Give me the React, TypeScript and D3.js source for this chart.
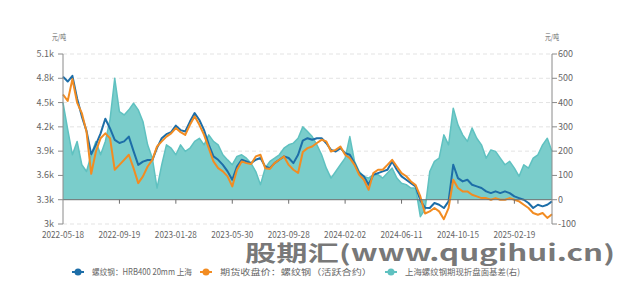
import React from "react";
import * as d3 from "d3";

const tickLabels = ["2022-05-18", "2022-09-19", "2023-01-28", "2023-05-30", "2023-09-28", "2024-02-02", "2024-06-11", "2024-10-15", "2025-02-19"];
const labelEvery = 12;

const spotHRB400 = [
  4820, 4760, 4830, 4550, 4330, 4150, 3860, 3980, 4120, 4300,
  4180, 4040, 4000, 4020, 4080, 3900, 3730, 3770, 3790, 3790,
  3940, 4060, 4110, 4135, 4215, 4160, 4143, 4265, 4370, 4285,
  4160, 3980, 3835, 3793, 3730, 3650, 3547, 3710, 3793, 3773,
  3752, 3793, 3815, 3710, 3690, 3752, 3793, 3835, 3815, 3752,
  3855, 4030, 4060, 4040, 4060, 4060, 3998, 3916, 3896, 3937,
  3875, 3855, 3752, 3629, 3588, 3485, 3608, 3629, 3650, 3670,
  3773, 3670, 3588, 3547, 3505, 3465, 3290, 3200, 3197, 3259,
  3238, 3197, 3280, 3732, 3567, 3526, 3547, 3485, 3465, 3444,
  3403, 3382, 3403, 3382, 3403, 3382, 3341, 3320, 3300, 3259,
  3197, 3238, 3218, 3238, 3280,
];

const futuresClose = [
  4600, 4520, 4790, 4500, 4370, 4140, 3620, 3896, 4060, 4120,
  4060, 3670, 3730, 3793, 3855, 3690, 3505, 3588, 3710, 3793,
  3958, 4020, 4080, 4120, 4185, 4135, 4100, 4225, 4330, 4225,
  4100, 3937, 3773, 3690, 3650, 3588, 3465, 3670, 3773, 3752,
  3740, 3835, 3855, 3690, 3680, 3752, 3793, 3835, 3730, 3670,
  3630, 3890, 3937, 3958, 4000, 4040, 4020, 3896, 3916, 3958,
  3855, 3814, 3730, 3608, 3547, 3423, 3629, 3670, 3670, 3730,
  3793, 3710, 3629, 3590, 3526, 3480, 3340, 3130, 3156, 3197,
  3156, 3060, 3197, 3547, 3444, 3403, 3403, 3362, 3341, 3320,
  3320, 3300, 3320, 3300, 3300, 3320, 3300, 3280, 3238, 3197,
  3136, 3115, 3136, 3075, 3120,
];

const basis = [
  400, 290, 185, 240, 144, 116, 185, 240, 185, 240,
  330, 500, 363, 349, 370, 397, 370, 322, 226, 171,
  48, 144, 226, 212, 185, 226, 199, 212, 240, 253,
  226, 267, 240, 226, 185, 164, 144, 178, 185, 171,
  150, 116, 62, 130, 158, 171, 185, 212, 226, 233,
  253, 300, 281, 260, 226, 185, 130, 89, 116, 144,
  171, 260, 158, 116, 96, 89, 103, 103, 89, 110,
  130, 89, 68, 62, 48, 48, -70, -40, 116, 158,
  171, 267, 226, 377, 308, 267, 240, 295, 253, 226,
  171, 205, 199, 171, 144, 158, 130, 96, 144, 130,
  171, 185, 226, 253, 199,
];

const leftTicks = [3000, 3300, 3600, 3900, 4200, 4500, 4800, 5100];
const rightTicks = [-100, 0, 100, 200, 300, 400, 500, 600];

const legendItems = [
  { name: "螺纹钢：HRB400 20mm 上海", color: "#1d6ea8" },
  { name: "期货收盘价：螺纹钢（活跃合约）", color: "#f28c22" },
  { name: "上海螺纹钢期现折盘面基差(右)", color: "#5fc1c0" },
];

export default function App() {
  const W = 633, H = 286;
  const x0 = 63, x1 = 552, yTop = 54, yBot = 224;
  const n = spotHRB400.length;
  const x = d3.scaleLinear().domain([0, n - 1]).range([x0, x1]);
  const yL = d3.scaleLinear().domain([3000, 5100]).range([yBot, yTop]);
  const yR = d3.scaleLinear().domain([-100, 600]).range([yBot, yTop]);
  const zeroY = yR(0);

  const lineL = d3.line<number>().x((_, i) => x(i)).y((d) => yL(d));
  const lineR = d3.line<number>().x((_, i) => x(i)).y((d) => yR(d));
  const areaR = d3.area<number>().x((_, i) => x(i)).y0(zeroY).y1((d) => yR(d));

  const font = "'Noto Sans CJK SC', 'Noto Sans', sans-serif";
  const txt = "#666";

  const legendX = [72, 200, 385];
  const legendW = [100, 152, 115];

  return (
    <div style={{ position: "absolute", left: 0, top: 0 }}>
      <svg width={W} height={H} style={{ display: "block", background: "#fff" }} fontFamily={font}>
        {/* grid */}
        {leftTicks.map((t) =>
          t === 3300 ? null : (
            <line key={"g" + t} x1={x0} x2={x1} y1={yL(t)} y2={yL(t)} stroke="#e3e3e3" strokeDasharray="4,3" />
          )
        )}
        {/* basis area */}
        <path d={areaR(basis) || ""} fill="#7acdcb" />
        <path d={lineR(basis) || ""} fill="none" stroke="#5fc1c0" strokeWidth={1.5} strokeLinejoin="round" />
        {/* lines */}
        <path d={lineL(spotHRB400) || ""} fill="none" stroke="#1d6ea8" strokeWidth={2} strokeLinejoin="round" />
        <path d={lineL(futuresClose) || ""} fill="none" stroke="#f28c22" strokeWidth={2} strokeLinejoin="round" />

        {/* x axis on zero */}
        <line x1={x0} x2={x1} y1={zeroY} y2={zeroY} stroke="#6e6e6e" strokeWidth={1} />
        {tickLabels.map((lab, k) => {
          const xi = x(k * labelEvery);
          return (
            <g key={lab}>
              {k > 0 && <line x1={xi} x2={xi} y1={zeroY} y2={zeroY + 4} stroke="#6e6e6e" />}
              <text x={xi} y={238} fontSize={9} fill={txt} textAnchor="middle" textLength={42} lengthAdjust="spacingAndGlyphs">{lab}</text>
            </g>
          );
        })}

        {/* left axis */}
        <line x1={x0} x2={x0} y1={yTop} y2={yBot} stroke="#8a8a8a" />
        {leftTicks.map((t) => (
          <g key={"l" + t}>
            <line x1={x0 - 5} x2={x0} y1={yL(t)} y2={yL(t)} stroke="#8a8a8a" />
            <text x={x0 - 9} y={yL(t) + 3} fontSize={9} fill={txt} textAnchor="end">{(t / 1000).toFixed(t % 1000 === 0 ? 0 : 1)}k</text>
          </g>
        ))}
        <text x={59} y={40} fontSize={8} fill={txt} textAnchor="middle" textLength={14} lengthAdjust="spacingAndGlyphs">元/吨</text>

        {/* right axis */}
        <line x1={x1} x2={x1} y1={yTop} y2={yBot} stroke="#8a8a8a" />
        {rightTicks.map((t) => (
          <g key={"r" + t}>
            <line x1={x1} x2={x1 + 5} y1={yR(t)} y2={yR(t)} stroke="#8a8a8a" />
            <text x={x1 + 6} y={yR(t) + 3} fontSize={9} fill={txt} textAnchor="start">{t}</text>
          </g>
        ))}
        <text x={552} y={40} fontSize={8} fill={txt} textAnchor="middle" textLength={14} lengthAdjust="spacingAndGlyphs">元/吨</text>

        {/* legend */}
        {legendItems.map((it, i) => (
          <g key={it.name} transform={`translate(${legendX[i]},272)`}>
            <line x1={0} x2={12} y1={0} y2={0} stroke={it.color} strokeWidth={2} />
            <circle cx={6} cy={0} r={3.5} fill={it.color} />
            <text x={20} y={3} fontSize={8.5} fill={txt} textLength={legendW[i]} lengthAdjust="spacingAndGlyphs">{it.name}</text>
          </g>
        ))}

        {/* watermark */}
        <text x={245} y={261} fontSize={22} fontWeight="bold" fill="#3c3c3c" fillOpacity={0.7} textLength={370} lengthAdjust="spacingAndGlyphs">股期汇(www.qugihui.cn)</text>
      </svg>
    </div>
  );
}
